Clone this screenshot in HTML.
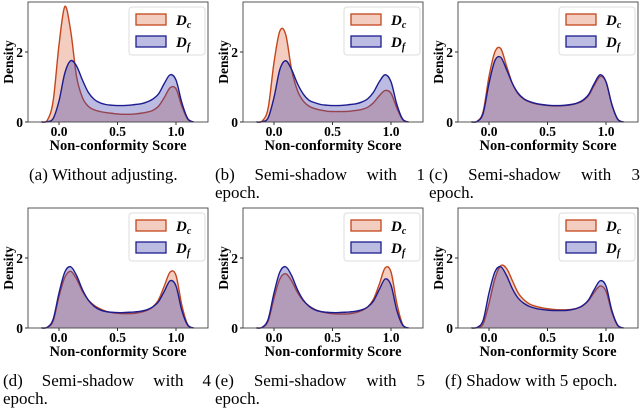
<!DOCTYPE html>
<html><head><meta charset="utf-8"><style>
body{margin:0;background:#fff;}
svg{display:block;font-family:"Liberation Serif",serif;}
</style></head><body>
<svg id="fig" width="640" height="411" viewBox="0 0 640 411"></svg>
<script>
const xGrid=[-0.15,-0.1,-0.05,0,0.05,0.1,0.15,0.2,0.25,0.3,0.35,0.4,0.45,0.5,0.55,0.6,0.65,0.7,0.75,0.8,0.85,0.9,0.95,1.0,1.05,1.1,1.15];
const aDc=[0,0.05,0.6,2.2,3.3,2.6,1.3,0.7,0.45,0.35,0.3,0.27,0.25,0.23,0.22,0.22,0.23,0.25,0.28,0.33,0.45,0.7,0.98,0.95,0.45,0.08,0];
const aDf=[0,0.01,0.1,0.6,1.4,1.75,1.6,1.2,0.85,0.65,0.55,0.5,0.48,0.47,0.47,0.48,0.5,0.52,0.57,0.65,0.8,1.1,1.35,1.2,0.55,0.1,0];
const bDc=[0,0.03,0.4,1.7,2.6,2.5,1.5,0.9,0.6,0.45,0.38,0.34,0.31,0.3,0.3,0.3,0.31,0.33,0.36,0.42,0.55,0.75,0.9,0.82,0.4,0.07,0];
const bDf=[0,0.01,0.12,0.7,1.5,1.75,1.5,1.1,0.8,0.62,0.55,0.5,0.48,0.47,0.47,0.48,0.5,0.52,0.57,0.66,0.85,1.15,1.35,1.15,0.5,0.08,0];
const cDc=[0,0.02,0.3,1.3,2.0,2.1,1.6,1.1,0.8,0.65,0.57,0.52,0.49,0.47,0.46,0.46,0.47,0.49,0.53,0.6,0.75,1.05,1.3,1.15,0.5,0.08,0];
const cDf=[0,0.02,0.25,1.1,1.75,1.85,1.5,1.1,0.82,0.66,0.58,0.53,0.5,0.48,0.47,0.47,0.48,0.5,0.54,0.62,0.78,1.1,1.35,1.15,0.5,0.08,0];
const dDc=[0,0.02,0.2,0.9,1.45,1.62,1.4,1.05,0.8,0.65,0.55,0.48,0.44,0.42,0.41,0.41,0.42,0.45,0.5,0.6,0.8,1.2,1.6,1.5,0.65,0.1,0];
const dDf=[0,0.02,0.25,1.0,1.6,1.75,1.5,1.1,0.8,0.62,0.52,0.47,0.45,0.44,0.44,0.45,0.46,0.48,0.52,0.6,0.75,1.05,1.35,1.2,0.5,0.08,0];
const eDc=[0,0.02,0.2,0.85,1.4,1.55,1.35,1.02,0.78,0.63,0.53,0.47,0.43,0.41,0.4,0.4,0.41,0.44,0.5,0.6,0.82,1.25,1.72,1.6,0.7,0.1,0];
const eDf=[0,0.02,0.25,1.0,1.6,1.75,1.5,1.1,0.8,0.62,0.52,0.47,0.45,0.44,0.44,0.45,0.46,0.48,0.52,0.6,0.77,1.1,1.4,1.22,0.5,0.08,0];
const fDc=[0,0.01,0.12,0.7,1.4,1.78,1.7,1.35,1.0,0.8,0.68,0.62,0.58,0.55,0.53,0.52,0.52,0.53,0.56,0.63,0.78,1.02,1.2,1.05,0.45,0.07,0];
const fDf=[0,0.02,0.22,1.0,1.6,1.75,1.5,1.12,0.85,0.7,0.61,0.56,0.53,0.51,0.5,0.5,0.5,0.52,0.56,0.64,0.8,1.1,1.35,1.2,0.5,0.08,0];
const xTicks=[0.0,0.5,1.0];
const xTickLabels=["0.0","0.5","1.0"];
const yTicks=[0,2];
const yTickLabels=["0","2"];
const panels=[
 {id:"a",dc:aDc,df:aDf,ox:0,oy:0,cap:["(a) Without adjusting."],cx:29,cw:0},
 {id:"b",dc:bDc,df:bDf,ox:215,oy:0,cap:["(b) Semi-shadow with 1","epoch."],cx:215,cw:210},
 {id:"c",dc:cDc,df:cDf,ox:430,oy:0,cap:["(c) Semi-shadow with 3","epoch."],cx:429,cw:211},
 {id:"d",dc:dDc,df:dDf,ox:0,oy:206,cap:["(d) Semi-shadow with 4","epoch."],cx:3,cw:208},
 {id:"e",dc:eDc,df:eDf,ox:215,oy:206,cap:["(e) Semi-shadow with 5","epoch."],cx:215,cw:210},
 {id:"f",dc:fDc,df:fDf,ox:430,oy:206,cap:["(f) Shadow with 5 epoch."],cx:445,cw:0}
];
const NS="http://www.w3.org/2000/svg";
const svg=document.getElementById('fig');
function mk(tag,attrs,parent){const e=document.createElementNS(NS,tag);for(const k in attrs)e.setAttribute(k,attrs[k]);(parent||svg).appendChild(e);return e;}
function smoothPath(pts){let d="M"+pts[0][0]+","+pts[0][1];for(let i=0;i<pts.length-1;i++){const p0=pts[Math.max(0,i-1)],p1=pts[i],p2=pts[i+1],p3=pts[Math.min(pts.length-1,i+2)];
 const c1=[p1[0]+(p2[0]-p0[0])/6,p1[1]+(p2[1]-p0[1])/6],c2=[p2[0]-(p3[0]-p1[0])/6,p2[1]-(p3[1]-p1[1])/6];
 d+=" C"+c1[0].toFixed(2)+","+c1[1].toFixed(2)+" "+c2[0].toFixed(2)+","+c2[1].toFixed(2)+" "+p2[0].toFixed(2)+","+p2[1].toFixed(2);}return d;}
panels.forEach(p=>{
 const L=p.ox+28,R=p.ox+208,T=p.oy+2,B=p.oy+122;
 const xs=v=>L+31+(v-0)*117;
 const ys=v=>B-v*35;
 const g=mk('g',{});
 
 
 [[p.dc,'#c4461c','#d9714a','density-dc'],[p.df,'#1c1c8f','#4040b0','density-df']].forEach(s=>{
  const pts=xGrid.map((x,i)=>[xs(x),ys(s[0][i])]);
  const d=smoothPath(pts);
  const f=mk('path',{d:d+" L"+pts[pts.length-1][0]+","+B+" L"+pts[0][0]+","+B+" Z",fill:s[2],'fill-opacity':0.35,stroke:'none'},g);
  
  
  const l=mk('path',{d:d,fill:'none',stroke:s[1],'stroke-width':1.4},g);
  
  
 });
 const fr=mk('rect',{x:L,y:T,width:R-L,height:B-T,fill:'none',stroke:'#444','stroke-width':0.9},g);
 
 
 xTicks.forEach((t,i)=>{mk('line',{x1:xs(t),x2:xs(t),y1:B,y2:B+3,stroke:'#333'},g);
  const tx=mk('text',{x:xs(t),y:B+14,'text-anchor':'middle','font-size':13.5,'font-weight':'bold'},g);tx.textContent=xTickLabels[i];
  
  });
 yTicks.forEach((t,i)=>{mk('line',{x1:L-3,x2:L,y1:ys(t),y2:ys(t),stroke:'#333'},g);
  const tx=mk('text',{x:L-5,y:ys(t)+5,'text-anchor':'end','font-size':13.5,'font-weight':'bold'},g);tx.textContent=yTickLabels[i];
  
  });
 const xl=mk('text',{x:(L+R)/2,y:B+28,'text-anchor':'middle','font-size':14.5,'font-weight':'bold'},g);xl.textContent="Non-conformity Score";
 
 
 const yl=mk('text',{x:0,y:0,transform:`translate(${p.ox+13},${p.oy+62}) rotate(-90)`,'text-anchor':'middle','font-size':13.5,'font-weight':'bold'},g);yl.textContent="Density";
 
 
 const lg=mk('g',{},g);
 
 
 mk('rect',{x:p.ox+129,y:p.oy+7,width:76,height:48,fill:'#fff','fill-opacity':0.85,stroke:'#ddd',rx:3},lg);
 [['#c4461c','#d9714a','c',14],['#1c1c8f','#4040b0','f',36]].forEach(e=>{
  mk('rect',{x:p.ox+136,y:p.oy+e[3],width:30,height:11,fill:e[1],'fill-opacity':0.35,stroke:e[0],'stroke-width':1.3},lg);
  const t=mk('text',{x:p.ox+176,y:p.oy+e[3]+11,'font-size':15,'font-weight':'bold','font-style':'italic'},lg);
  t.innerHTML='D<tspan font-size="10" dy="3">'+e[2]+'</tspan>';
  
  
 });
 const cg=mk('g',{},g);
 
 
 p.cap.forEach((c,i)=>{
  const y=p.oy+180+i*18;
  if(p.cw&&i===0){
   const words=c.split(' ');
   const els=words.map(w=>{const t=mk('text',{x:0,y:y,'font-size':17},cg);t.textContent=w;return t;});
   const ws=els.map(e=>e.getComputedTextLength());
   const total=ws.reduce((a,b)=>a+b,0);
   const gap=(p.cw-total)/(words.length-1);
   let x=p.cx;
   els.forEach((e,k)=>{e.setAttribute('x',x);x+=ws[k]+gap;});
  } else {
   const t=mk('text',{x:p.cx,y:y,'font-size':17},cg);t.textContent=c;
  }
 });
});
</script>
</body></html>
